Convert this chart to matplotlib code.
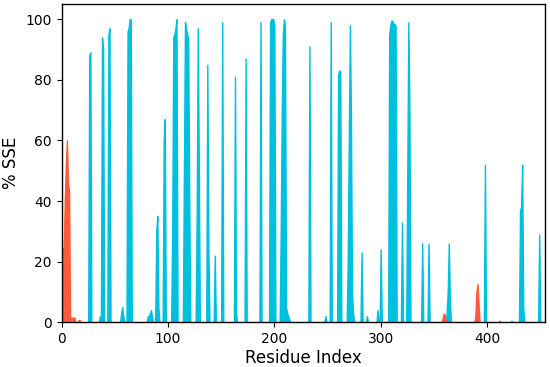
import numpy as np
import matplotlib
matplotlib.use("Agg")
import matplotlib.pyplot as plt

# number of residues (index 0..454)
n_res = 455

# strand (cyan) % SSE, residue -> value, zeros elsewhere
strand_idx = [26, 27, 36, 37, 38, 39, 44, 45, 56, 57, 58, 62, 63, 64, 65,
              81, 82, 83, 84, 85, 89, 90, 91, 96, 97,
              104, 105, 106, 107, 108, 115, 116, 117, 118, 119, 120,
              127, 128, 129, 137, 138, 144, 151, 163, 164, 173, 187,
              196, 197, 198, 199, 200,
              206, 207, 208, 209, 210, 211, 212, 213, 214,
              233, 248, 253, 260, 261, 262, 269, 270, 271, 272, 273, 274,
              282, 287, 297, 300, 308, 309, 310, 311, 312, 313, 314,
              320, 325, 326, 327, 339, 345, 362, 363, 364, 365,
              398, 423, 431, 432, 433, 434, 449]
strand_val = [88, 89, 2, 2, 94, 90, 95, 97, 3, 5, 2, 96, 97, 100, 100,
              2, 2, 3, 4, 2, 30, 35, 5, 60, 67,
              30, 94, 95, 97, 100, 50, 99, 97, 95, 94, 40,
              35, 97, 50, 85, 25, 22, 99, 81, 3, 87, 99,
              99, 100, 100, 100, 98,
              30, 70, 95, 100, 98, 5, 3, 2, 1,
              91, 2, 99, 82, 83, 83, 20, 60, 98, 70, 10, 3,
              23, 2, 4, 24, 95, 98, 99.5, 99.5, 98.5, 98.3, 98,
              33, 50, 99, 70, 26, 26, 3, 10, 26, 8,
              52, 0.5, 37, 38, 52, 5, 29]

# helix (red) % SSE
helix_idx = [1, 2, 3, 4, 5, 6, 7, 8, 9, 10, 11, 12, 16, 17,
             358, 359, 360, 361, 389, 390, 391, 392, 412]
helix_val = [23, 25, 40, 52, 60, 46, 43, 1.5, 1.5, 1.5, 1.5, 1.5, 0.7, 0.7,
             1, 2.7, 2.7, 1, 2, 10, 12.6, 6, 0.5]

residues = np.arange(n_res)
strand = np.zeros(n_res)
strand[strand_idx] = strand_val
helix = np.zeros(n_res)
helix[helix_idx] = helix_val

fig = plt.figure(figsize=(5.5, 3.67), dpi=100)
ax = fig.add_axes([0.112, 0.122, 0.878, 0.867])

ax.fill_between(residues, strand, color='#00C0E0', edgecolor='#00C0E0', linewidth=1.0)
ax.fill_between(residues, helix, color='#FF5B3A', edgecolor='#FF5B3A', linewidth=1.0)

ax.set_xlim(0, n_res - 1)
ax.set_ylim(0, 105)
ax.set_xticks([0, 100, 200, 300, 400])
ax.set_yticks([0, 20, 40, 60, 80, 100])
ax.tick_params(labelsize=10)
for s in ax.spines.values():
    s.set_zorder(5)
    s.set_linewidth(1.0)
ax.set_xlabel('Residue Index', fontsize=12, labelpad=2)
ax.set_ylabel('% SSE', fontsize=12)

fig.savefig("out.png", dpi=100)
